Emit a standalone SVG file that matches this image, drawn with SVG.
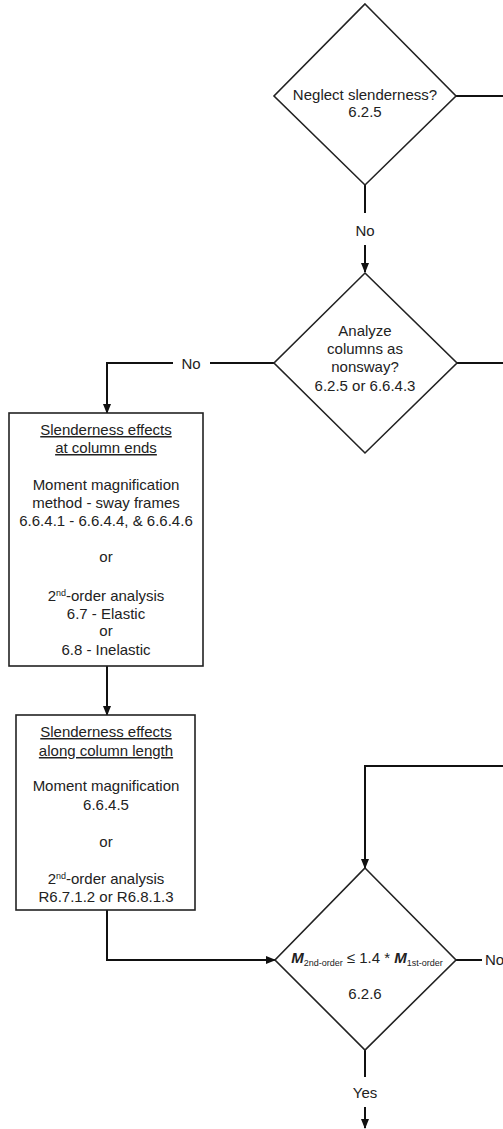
<svg xmlns="http://www.w3.org/2000/svg" width="503" height="1129" viewBox="0 0 503 1129">
<style>
text{font-family:"Liberation Sans",Arial,sans-serif;font-size:15px;fill:#222;text-anchor:middle}
.shape{fill:#fff;stroke:#222;stroke-width:1.6}
.conn{fill:none;stroke:#111;stroke-width:2}
.u{text-decoration:underline}
.sub{font-size:9px}
.sup{font-size:9px}
.bi{font-weight:bold;font-style:italic}
</style>
<defs>
<marker id="arr" markerWidth="10" markerHeight="10" refX="9" refY="5" orient="auto" markerUnits="userSpaceOnUse">
<path d="M0,1 L10,5 L0,9 Z" fill="#111"/>
</marker>
</defs>
<rect width="503" height="1129" fill="#fff"/>
<g id="connectors">
<line class="conn" x1="456" y1="96" x2="503" y2="96"/>
<line class="conn" x1="365" y1="185" x2="365" y2="213"/>
<line class="conn" x1="365" y1="245" x2="365" y2="272" marker-end="url(#arr)"/>
<line class="conn" x1="274" y1="363" x2="210" y2="363"/>
<polyline class="conn" points="173,363 107,363 107,413" marker-end="url(#arr)"/>
<line class="conn" x1="457" y1="363" x2="503" y2="363"/>
<line class="conn" x1="107" y1="666" x2="107" y2="715" marker-end="url(#arr)"/>
<polyline class="conn" points="107,910 107,960 275,960" marker-end="url(#arr)"/>
<polyline class="conn" points="503,766 365,766 365,868" marker-end="url(#arr)"/>
<line class="conn" x1="456" y1="960" x2="482" y2="960"/>
<line class="conn" x1="365" y1="1050" x2="365" y2="1077"/>
<line class="conn" x1="365" y1="1107" x2="365" y2="1128" marker-end="url(#arr)"/>
<text x="365" y="236">No</text>
<text x="191" y="369">No</text>
<text x="485" y="965" style="text-anchor:start">No</text>
<text x="365" y="1098">Yes</text>
</g>
<g id="neglect">
<polygon class="shape" points="365,4 456,96 365,185 274,96"/>
<text x="365" y="100">Neglect slenderness?</text>
<text x="365" y="117">6.2.5</text>
</g>
<g id="nonsway">
<polygon class="shape" points="365,273 457,363 365,453 274,363"/>
<text x="365" y="336">Analyze</text>
<text x="365" y="354">columns as</text>
<text x="365" y="372">nonsway?</text>
<text x="365" y="391">6.2.5 or 6.6.4.3</text>
</g>
<g id="ends">
<rect class="shape" x="9" y="413" width="194" height="253"/>
<text x="106" y="435" class="u">Slenderness effects</text>
<text x="106" y="453" class="u">at column ends</text>
<text x="106" y="490">Moment magnification</text>
<text x="106" y="508">method - sway frames</text>
<text x="106" y="526">6.6.4.1 - 6.6.4.4, &amp; 6.6.4.6</text>
<text x="106" y="562">or</text>
<text x="106" y="601">2<tspan class="sup" dy="-5">nd</tspan><tspan dy="5">-order analysis</tspan></text>
<text x="106" y="619">6.7 - Elastic</text>
<text x="106" y="636">or</text>
<text x="106" y="655">6.8 - Inelastic</text>
</g>
<g id="length">
<rect class="shape" x="16" y="715" width="179" height="195"/>
<text x="106" y="737" class="u">Slenderness effects</text>
<text x="106" y="756" class="u">along column length</text>
<text x="106" y="791">Moment magnification</text>
<text x="106" y="810">6.6.4.5</text>
<text x="106" y="847">or</text>
<text x="106" y="884">2<tspan class="sup" dy="-5">nd</tspan><tspan dy="5">-order analysis</tspan></text>
<text x="106" y="902">R6.7.1.2 or R6.8.1.3</text>
</g>
<g id="check">
<polygon class="shape" points="365,868 456,960 365,1050 275,960"/>
<text x="367" y="963"><tspan class="bi">M</tspan><tspan class="sub" dy="3">2nd-order</tspan><tspan dy="-3"> ≤ 1.4 * </tspan><tspan class="bi">M</tspan><tspan class="sub" dy="3">1st-order</tspan></text>
<text x="365" y="999">6.2.6</text>
</g>
</svg>
